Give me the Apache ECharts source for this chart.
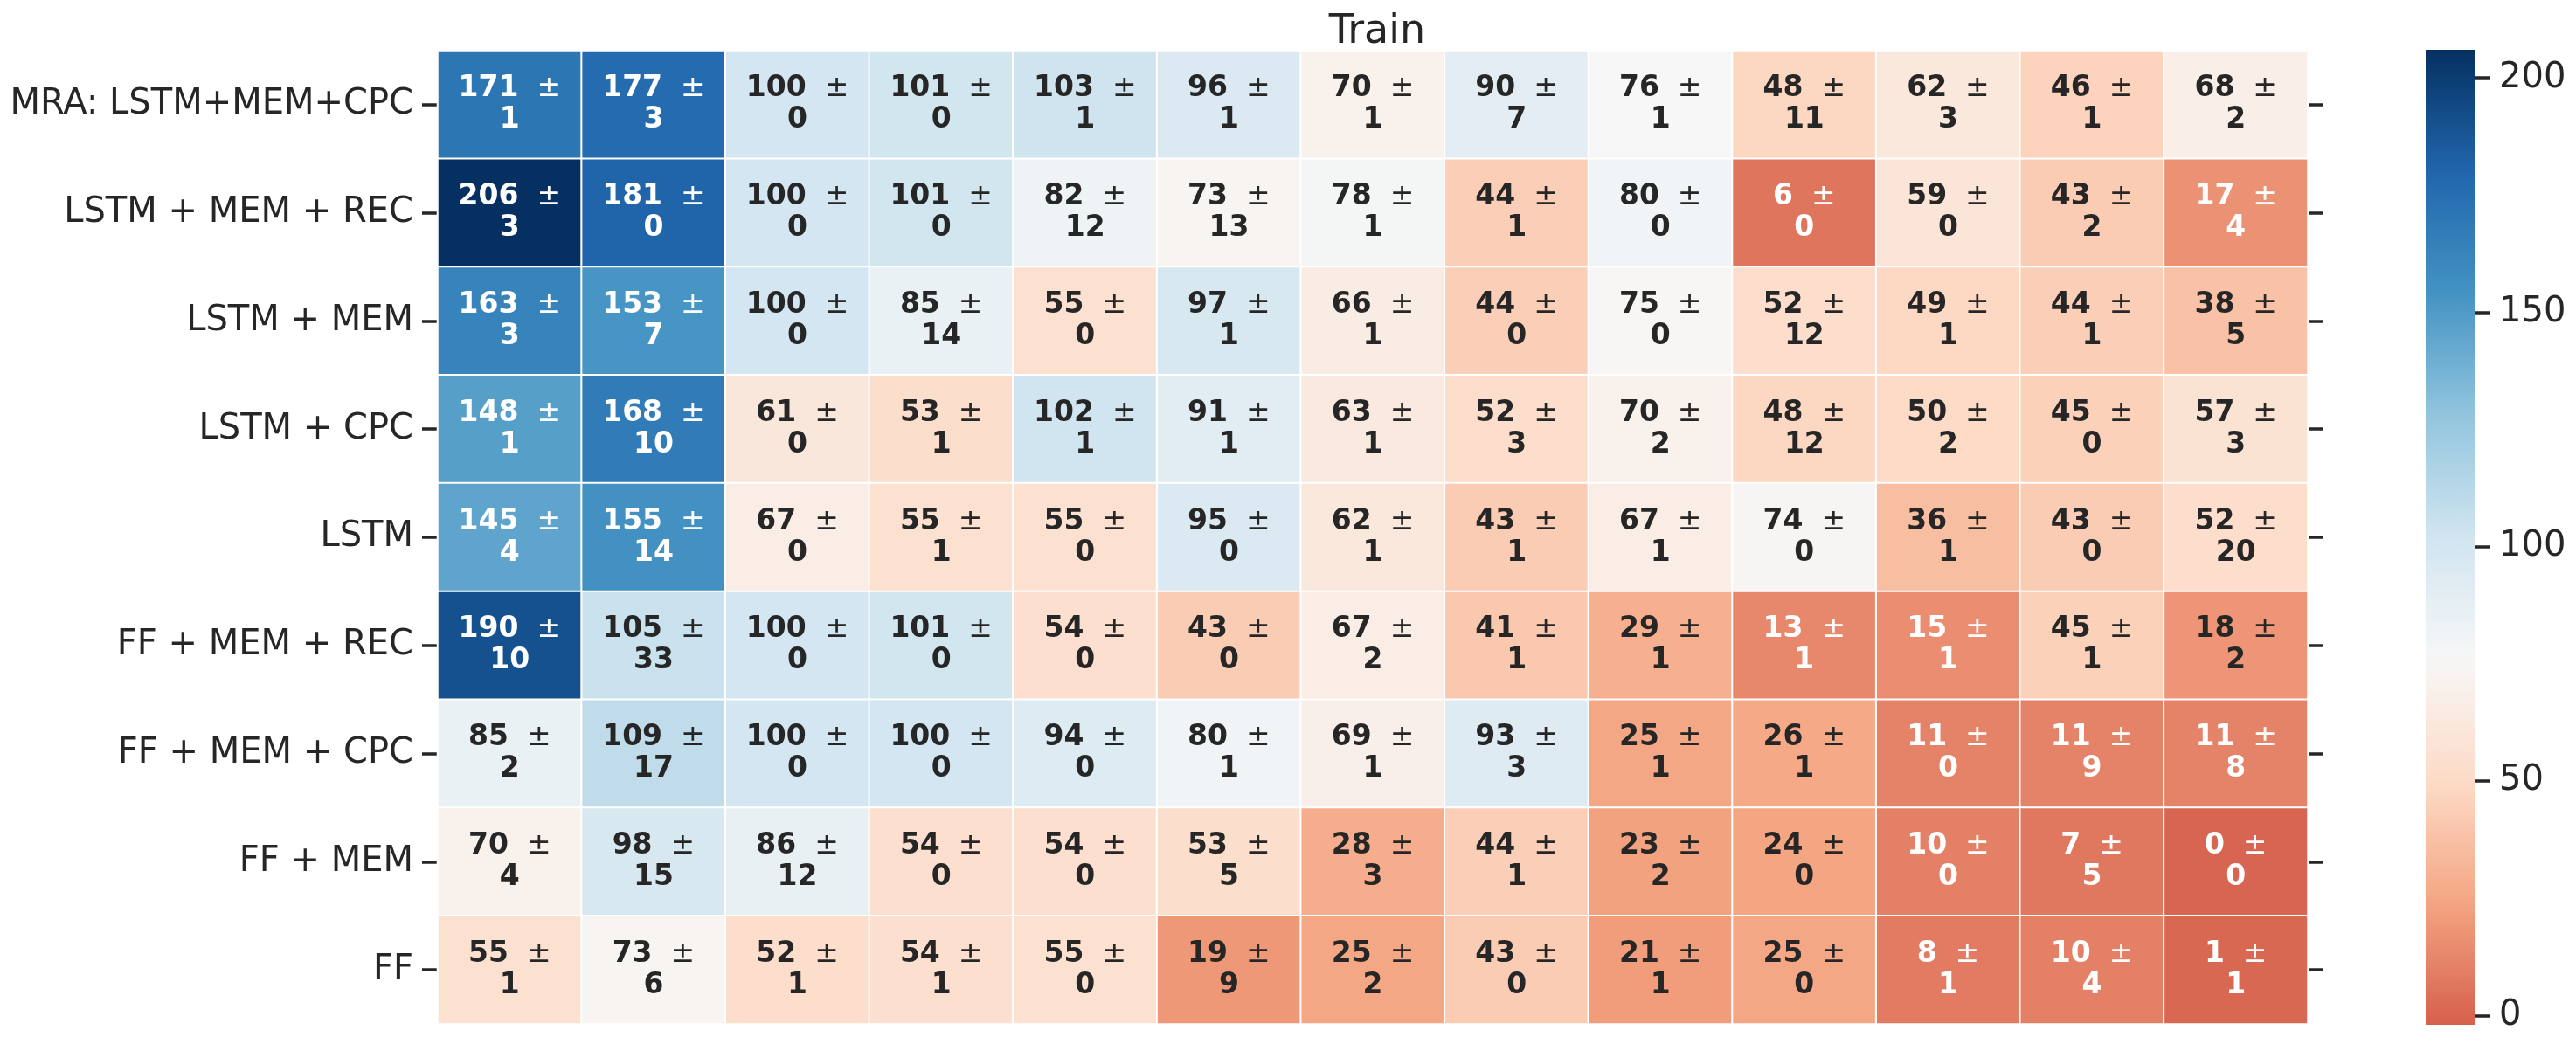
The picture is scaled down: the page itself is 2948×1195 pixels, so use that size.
<!DOCTYPE html>
<html><head><meta charset="utf-8">
<script src="https://cdn.jsdelivr.net/npm/echarts@6/dist/echarts.min.js"></script>
<style>html,body{margin:0;padding:0;background:#fff}#chart{width:2948px;height:1195px}</style>
</head><body><div id="chart"></div>
<script>
const chartTitle = 'Train';
const rowLabels = ['MRA: LSTM+MEM+CPC', 'LSTM + MEM + REC', 'LSTM + MEM', 'LSTM + CPC', 'LSTM',
  'FF + MEM + REC', 'FF + MEM + CPC', 'FF + MEM', 'FF'];
const columnIds = ['c1','c2','c3','c4','c5','c6','c7','c8','c9','c10','c11','c12','c13'];
const meanValues = [
  [171, 177, 100, 101, 103, 96, 70, 90, 76, 48, 62, 46, 68],
  [206, 181, 100, 101, 82, 73, 78, 44, 80, 6, 59, 43, 17],
  [163, 153, 100, 85, 55, 97, 66, 44, 75, 52, 49, 44, 38],
  [148, 168, 61, 53, 102, 91, 63, 52, 70, 48, 50, 45, 57],
  [145, 155, 67, 55, 55, 95, 62, 43, 67, 74, 36, 43, 52],
  [190, 105, 100, 101, 54, 43, 67, 41, 29, 13, 15, 45, 18],
  [85, 109, 100, 100, 94, 80, 69, 93, 25, 26, 11, 11, 11],
  [70, 98, 86, 54, 54, 53, 28, 44, 23, 24, 10, 7, 0],
  [55, 73, 52, 54, 55, 19, 25, 43, 21, 25, 8, 10, 1]
];
const stdValues = [
  [1, 3, 0, 0, 1, 1, 1, 7, 1, 11, 3, 1, 2],
  [3, 0, 0, 0, 12, 13, 1, 1, 0, 0, 0, 2, 4],
  [3, 7, 0, 14, 0, 1, 1, 0, 0, 12, 1, 1, 5],
  [1, 10, 0, 1, 1, 1, 1, 3, 2, 12, 2, 0, 3],
  [4, 14, 0, 1, 0, 0, 1, 1, 1, 0, 1, 0, 20],
  [10, 33, 0, 0, 0, 0, 2, 1, 1, 1, 1, 1, 2],
  [2, 17, 0, 0, 0, 1, 1, 3, 1, 1, 0, 9, 8],
  [4, 15, 12, 0, 0, 5, 3, 1, 2, 0, 0, 5, 0],
  [1, 6, 1, 1, 0, 9, 2, 0, 1, 0, 1, 4, 1]
];
const colorbarTicks = [0, 50, 100, 150, 200];
const CBAR_MIN = -2, CBAR_MAX = 206, CENTER = 76;

const RDBU = ['#67001f','#b2182b','#d6604d','#f4a582','#fddbc7','#f7f7f7','#d1e5f0','#92c5de','#4393c3','#2166ac','#053061'];
const RDBU_RGB = RDBU.map(h => [parseInt(h.slice(1,3),16), parseInt(h.slice(3,5),16), parseInt(h.slice(5,7),16)]);
function cmapRgb(v) {
  const vr = Math.max(CBAR_MAX - CENTER, CENTER - CBAR_MIN);
  let p = (v - (CENTER - vr)) / (2 * vr);
  p = Math.max(0, Math.min(1, p));
  const s = p * 10; let i = Math.floor(s); if (i >= 10) i = 9;
  const t = s - i; const a = RDBU_RGB[i], b = RDBU_RGB[i + 1];
  return [0,1,2].map(k => a[k] + (b[k] - a[k]) * t);
}
function rgbStr(c) { return 'rgb(' + c.map(x => Math.round(x)).join(',') + ')'; }
function luminance(c) {
  const lin = c.map(x => { x = x / 255; return x <= 0.03928 ? x / 12.92 : Math.pow((x + 0.055) / 1.055, 2.4); });
  return 0.2126 * lin[0] + 0.7152 * lin[1] + 0.0722 * lin[2];
}

const heatData = [];
for (let r = 0; r < rowLabels.length; r++) {
  for (let c = 0; c < columnIds.length; c++) {
    const m = meanValues[r][c], s = stdValues[r][c];
    const col = cmapRgb(m);
    heatData.push({ value: [c, r, m, s], dark: luminance(col) > 0.408, itemStyle: { color: rgbStr(col) } });
  }
}

const stops = [];
for (let k = 0; k <= 60; k++) {
  const v = CBAR_MIN + (CBAR_MAX - CBAR_MIN) * k / 60;
  stops.push({ offset: k / 60, color: rgbStr(cmapRgb(v)) });
}

const FONT = 'DejaVu Sans';
const TXT = '#262626';
const richStyle = (color, weight, size) => ({ fontFamily: FONT, fontWeight: weight, fontSize: size, color: color, lineHeight: 36 });

const chart = echarts.init(document.getElementById('chart'), null, { renderer: 'canvas' });
chart.setOption({
  animation: false,
  backgroundColor: '#fff',
  title: {
    text: chartTitle, left: 1571, top: 9, textAlign: 'center',
    textStyle: { fontFamily: FONT, fontSize: 46, fontWeight: 'normal', color: TXT }
  },
  grid: [
    { left: 501, top: 58, width: 2140, height: 1114 },
    { left: 2776, top: 57, width: 56, height: 1116 }
  ],
  xAxis: [
    { type: 'category', gridIndex: 0, data: columnIds, show: false },
    { type: 'category', gridIndex: 1, data: ['cb'], show: false }
  ],
  yAxis: [
    { type: 'category', gridIndex: 0, data: rowLabels, inverse: true, position: 'left',
      axisLine: { show: false },
      axisTick: { show: true, alignWithLabel: true, length: 18, lineStyle: { color: TXT, width: 3.5 } },
      axisLabel: { fontFamily: FONT, fontSize: 40, color: TXT, margin: 28 },
      splitLine: { show: false } },
    { type: 'category', gridIndex: 0, data: rowLabels, inverse: true, position: 'right',
      axisLine: { show: false },
      axisTick: { show: true, alignWithLabel: true, length: 18, lineStyle: { color: TXT, width: 3.5 } },
      axisLabel: { show: false }, splitLine: { show: false } },
    { type: 'value', gridIndex: 1, min: CBAR_MIN, max: CBAR_MAX, position: 'right',
      axisLine: { show: false },
      axisTick: { show: true, length: 18, customValues: colorbarTicks, lineStyle: { color: TXT, width: 3.5 } },
      axisLabel: { fontFamily: FONT, fontSize: 40, color: TXT, margin: 28, customValues: colorbarTicks },
      splitLine: { show: false } }
  ],
  series: [
    {
      type: 'heatmap', xAxisIndex: 0, yAxisIndex: 0, data: heatData,
      itemStyle: { borderColor: '#ffffff', borderWidth: 2 },
      emphasis: { disabled: true },
      label: {
        show: true,
        formatter: p => {
          const d = p.data.dark;
          const b = d ? 'b' : 'bw', pm = d ? 'pm' : 'pmw';
          return '{' + b + '|' + p.value[2] + '}{' + pm + '|  ±}\n{' + b + '|' + p.value[3] + '}';
        },
        rich: {
          b: richStyle(TXT, 'bold', 33), bw: richStyle('#ffffff', 'bold', 33),
          pm: richStyle(TXT, 'normal', 33), pmw: richStyle('#ffffff', 'normal', 33)
        }
      }
    },
    {
      type: 'custom', xAxisIndex: 1, yAxisIndex: 2, data: [[0, CBAR_MAX]], silent: true,
      renderItem: (params, api) => {
        const p0 = api.coord([0, CBAR_MIN]);
        const p1 = api.coord([0, CBAR_MAX]);
        const cs = params.coordSys;
        return {
          type: 'rect',
          shape: { x: cs.x, y: p1[1], width: cs.width, height: p0[1] - p1[1] },
          style: { fill: new echarts.graphic.LinearGradient(0, 1, 0, 0, stops) }
        };
      }
    }
  ]
});
</script>
</body></html>
